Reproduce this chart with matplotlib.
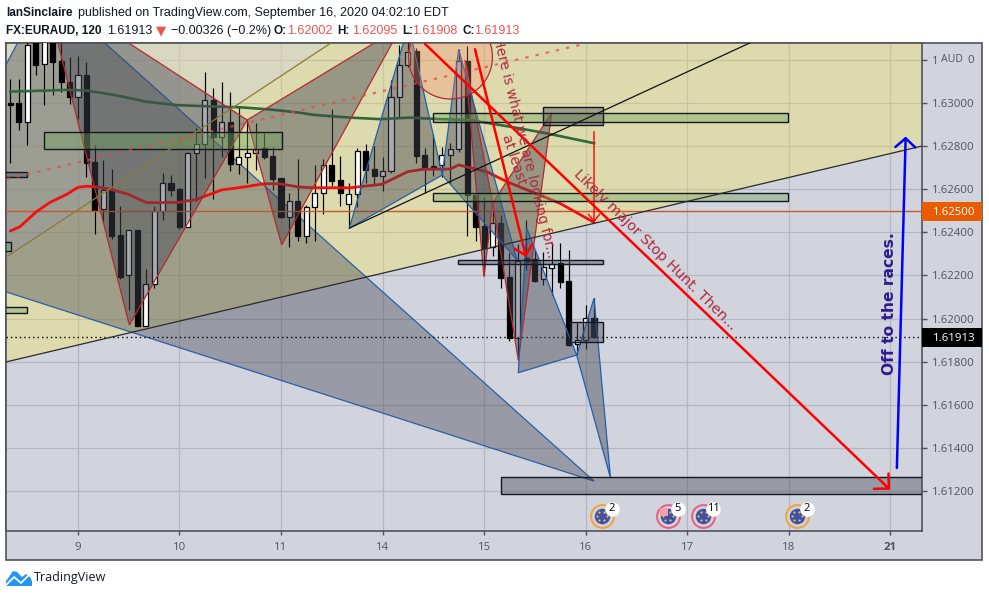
import numpy as np
import matplotlib
matplotlib.use("Agg")
import matplotlib.pyplot as plt
from matplotlib.patches import Polygon, Rectangle, Ellipse

# candles, one per 2h bar
opens = [1.63001, 1.63001, 1.62915, 1.63305, 1.63182, 1.63320, 1.63198, 1.63101, 1.63032, 1.63133,
         1.62727, 1.62508, 1.62598, 1.62388, 1.62201, 1.62412, 1.61967, 1.62159, 1.62501, 1.62629,
         1.62602, 1.62427, 1.62768, 1.62810, 1.63015, 1.62846, 1.62913, 1.62720, 1.62750, 1.62768,
         1.62792, 1.62756, 1.62652, 1.62473, 1.62545, 1.62385, 1.62517, 1.62582, 1.62713, 1.62644,
         1.62531, 1.62577, 1.62779, 1.62694, 1.62664, 1.62685, 1.63029, 1.63178, 1.63244, 1.62759,
         1.62711, 1.62713, 1.62759, 1.62787, 1.63196, 1.62574, 1.62430, 1.62331, 1.62445, 1.62193,
         1.61911, 1.62281, 1.62277, 1.62182, 1.62236, 1.62257, 1.62174, 1.61880, 1.61901, 1.62002]
closes = [1.62995, 1.62915, 1.63272, 1.63179, 1.63319, 1.63193, 1.63101, 1.63029, 1.63133, 1.62725,
          1.62505, 1.62598, 1.62385, 1.62194, 1.62410, 1.61967, 1.62159, 1.62501, 1.62629, 1.62598,
          1.62427, 1.62768, 1.62810, 1.63015, 1.62846, 1.62913, 1.62720, 1.62750, 1.62768, 1.62790,
          1.62753, 1.62649, 1.62473, 1.62545, 1.62385, 1.62517, 1.62582, 1.62713, 1.62641, 1.62585,
          1.62577, 1.62779, 1.62691, 1.62663, 1.62685, 1.63029, 1.63178, 1.63241, 1.62756, 1.62706,
          1.62706, 1.62759, 1.62787, 1.63196, 1.62573, 1.62427, 1.62327, 1.62443, 1.62190, 1.61911,
          1.62267, 1.62264, 1.62176, 1.62240, 1.62253, 1.62171, 1.61877, 1.61901, 1.62001, 1.61913]
highs = [1.63113, 1.63113, 1.63300, 1.63330, 1.63335, 1.63340, 1.63281, 1.63215, 1.63221, 1.63192,
         1.62807, 1.62737, 1.62694, 1.62523, 1.62412, 1.62412, 1.62230, 1.62523, 1.62676, 1.62668,
         1.62607, 1.62776, 1.62885, 1.63145, 1.63071, 1.63099, 1.63055, 1.62988, 1.62923, 1.62908,
         1.62864, 1.62799, 1.62652, 1.62582, 1.62742, 1.62528, 1.62714, 1.62742, 1.62974, 1.62756,
         1.62632, 1.62793, 1.62812, 1.62802, 1.62753, 1.63109, 1.63272, 1.63295, 1.63258, 1.62794,
         1.62858, 1.62796, 1.62818, 1.63252, 1.63267, 1.62574, 1.62565, 1.62505, 1.62481, 1.62305,
         1.62347, 1.62458, 1.62319, 1.62309, 1.62350, 1.62350, 1.62319, 1.61977, 1.62063, 1.62095]
lows = [1.62725, 1.62877, 1.62807, 1.63133, 1.62993, 1.63040, 1.63055, 1.62998, 1.62928, 1.62660,
        1.62393, 1.62443, 1.62370, 1.62182, 1.62040, 1.61967, 1.61967, 1.62140, 1.62458, 1.62570,
        1.62416, 1.62424, 1.62548, 1.62655, 1.62555, 1.62753, 1.62688, 1.62672, 1.62629, 1.62691,
        1.62742, 1.62598, 1.62467, 1.62334, 1.62360, 1.62350, 1.62360, 1.62486, 1.62616, 1.62523,
        1.62421, 1.62520, 1.62630, 1.62621, 1.62593, 1.62677, 1.62933, 1.63171, 1.62725, 1.62585,
        1.62663, 1.62660, 1.62632, 1.62776, 1.62385, 1.62360, 1.62202, 1.62291, 1.62140, 1.61897,
        1.61807, 1.62226, 1.62170, 1.62156, 1.62109, 1.62140, 1.61872, 1.61830, 1.61858, 1.61908]

# moving averages
red_ma_x = [0, 1.15, 3.1, 4.7, 6.7, 8, 9, 10.2, 11.8, 13.9, 16.1, 18.1, 20, 22, 25, 27.9, 30, 31.9, 34,
            35.8, 40.2, 43.9, 47, 48.8, 52, 53, 56.3, 58.7, 62.6, 65, 69]
red_ma_y = [1.62407, 1.62427, 1.62497, 1.62540, 1.62578, 1.62610, 1.62615, 1.62612, 1.62601, 1.62578,
            1.62539, 1.62539, 1.62540, 1.62554, 1.62598, 1.62613, 1.62627, 1.62626, 1.62612,
            1.62608, 1.62608, 1.62624, 1.62683, 1.62694, 1.62695, 1.62714, 1.62683, 1.62636, 1.62574, 1.62535, 1.62447]
green_ma_x = [0, 2.7, 6.7, 9, 12.2, 16.1, 19.7, 23.2, 27.2, 30.3, 31.9, 34.2, 35.8, 40.2, 43.7, 47.2, 50.8,
              54.3, 59.5, 63.4, 69]
green_ma_y = [1.63055, 1.63058, 1.63063, 1.63060, 1.63040, 1.63008, 1.62992, 1.62987, 1.62982, 1.62973,
              1.62967, 1.62957, 1.62947, 1.62934, 1.62927, 1.62934, 1.62927, 1.62923, 1.62889, 1.62861, 1.62815]

# axis ticks
day_ticks = [8, 20, 32, 44, 56, 68, 80, 92, 104]
day_labels = ["9", "10", "11", "14", "15", "16", "17", "18", "21"]
price_ticks = [1.612, 1.614, 1.616, 1.618, 1.620, 1.622, 1.624, 1.626, 1.628, 1.630, 1.632]
price_labels = ["1.61200", "1.61400", "1.61600", "1.61800", "1.62000", "1.62200", "1.62400", "1.62600",
                "1.62800", "1.63000", "1"]

# drawings, (bar, price)
yellow_zone = [(-0.51, 1.61798), (107.8, 1.62802), (107.8, 1.6335), (-0.51, 1.6335)]
upper_zone = [(-0.51, 1.62285), (37.9, 1.63281), (-0.51, 1.63281)]
brown_line = [(-0.51, 1.62285), (37.9, 1.63281)]
black_line = [(40.07, 1.62420), (87.4, 1.63281)]
dotted_line = [(-0.43, 1.62648), (67.34, 1.63272)]
big_triangle = [(-12.6, 1.62277), (4.16, 1.63528), (69.0, 1.61244)]
red_triangles = [
    [(3.98, 1.63537), (14.07, 1.61970), (28.0, 1.62923)],
    [(28.0, 1.62923), (32.08, 1.62342), (46.18, 1.63356)],
    [(53.75, 1.63202), (55.99, 1.62193), (57.02, 1.62537)],
    [(57.02, 1.62537), (64.0, 1.62956), (60.05, 1.61807)],
]
blue_triangles = [
    [(40.07, 1.62420), (47.08, 1.63365), (51.06, 1.62667)],
    [(51.06, 1.62667), (53.0, 1.63252), (59.9, 1.62272)],
    [(61.04, 1.62420), (60.05, 1.61748), (66.95, 1.61830)],
    [(66.95, 1.61830), (69.0, 1.62094), (70.95, 1.61258)],
]
# bar from, bar to, price top, price bottom
green_boxes = [(4.02, 32.08, 1.62866, 1.62787), (50.0, 91.93, 1.62954, 1.62913), (50.0, 91.93, 1.62585, 1.62548),
               (-0.6, 0.05, 1.62354, 1.62315), (-0.6, 2.01, 1.62055, 1.62024)]
gray_boxes = [(-0.6, 2.01, 1.62683, 1.62660), (63.0, 70.02, 1.62982, 1.62899), (52.95, 70.02, 1.62270, 1.62255),
              (66.16, 70.02, 1.61985, 1.61892), (58.0, 108.5, 1.61261, 1.61182)]
# calendar events
event_bars = [69.9, 77.74, 81.9, 92.95]
event_counts = ["2", "5", "11", "2"]
event_colors = ["#f7a035", "#f05a78", "#f05a78", "#f7a035"]
event_price = 1.61081

BG = "#d1d4dd"
FRAME = "#50535e"
TXT = "#50535e"
W, H = 989, 597


def px(x, y):
    return x / W, 1 - y / H


fig = plt.figure(figsize=(W / 100, H / 100), dpi=100, facecolor="white")
plt.rcParams["font.family"] = ["Open Sans", "DejaVu Sans"]

# outer pane with the price and time scales
x0, y0 = px(6, 560)
fig.add_artist(Rectangle((x0, y0), 976 / W, 517 / H, transform=fig.transFigure,
                         facecolor=BG, edgecolor=FRAME, lw=1.2, zorder=-1))

ax = fig.add_axes([6 / W, 1 - 531 / H, 916 / W, 488 / H], facecolor=BG)
ax.set_xlim(-0.508, 107.77)
ax.set_ylim(1.61012, 1.63281)
for s in ax.spines.values():
    s.set_color(FRAME)
    s.set_linewidth(1.2)

ax.set_xticks(day_ticks)
ax.set_xticklabels(day_labels, fontsize=8.2, color=TXT)
ax.get_xticklabels()[-1].set_fontweight("bold")
ax.yaxis.tick_right()
ax.set_yticks(price_ticks)
ax.set_yticklabels(price_labels, fontsize=8.2, color=TXT)
ax.tick_params(axis="y", length=3.5, width=1, color=FRAME, pad=4)
ax.tick_params(axis="x", length=3, width=1, color=FRAME, pad=5)
ax.grid(True, color="#b4b7c1", lw=0.9, zorder=1)
ax.set_axisbelow(True)

GRAY = "#434651"
ax.add_patch(Polygon(yellow_zone, facecolor="#fce844", alpha=0.3, lw=0, zorder=2))
ax.add_patch(Polygon(upper_zone, facecolor=BG, alpha=0.4, lw=0, zorder=2.1))
ax.add_patch(Polygon(big_triangle, facecolor=GRAY, alpha=0.4, lw=0, zorder=2.2))
ax.add_patch(Polygon(big_triangle, fill=False, edgecolor="#2a5fa8", lw=0.9, zorder=2.3))

# candles
bars = np.arange(len(opens))
for i in bars:
    up = closes[i] >= opens[i]
    col = "white" if up else "black"
    ax.vlines(i, lows[i], highs[i], color="black", lw=0.85, zorder=3)
    top = max(opens[i], closes[i])
    bot = min(opens[i], closes[i])
    ax.bar(i, top - bot, bottom=bot, width=0.6, color=col, edgecolor="black", lw=0.9, zorder=3.1)

ax.plot(red_ma_x, red_ma_y, color="#f01010", lw=2.0, zorder=3.4, solid_capstyle="round")
ax.plot(green_ma_x, green_ma_y, color="#2d6a3a", lw=1.9, zorder=3.4)
ax.axhline(1.625, color="#c8582a", lw=1.0, zorder=3.3)
ax.axhline(closes[-1], color="black", lw=1.0, ls=(0, (1, 2.2)), zorder=3.3)

for tri in red_triangles:
    ax.add_patch(Polygon(tri, facecolor=GRAY, edgecolor="none", alpha=0.45, zorder=4))
    ax.add_patch(Polygon(tri, fill=False, edgecolor="#b5282f", lw=0.9, zorder=4.1))
for tri in blue_triangles:
    ax.add_patch(Polygon(tri, facecolor=GRAY, edgecolor="none", alpha=0.45, zorder=4))
    ax.add_patch(Polygon(tri, fill=False, edgecolor="#1f5fae", lw=0.9, zorder=4.1))

for b in green_boxes:
    ax.add_patch(Rectangle((b[0], b[3]), b[1] - b[0], b[2] - b[3], facecolor="#70a357", alpha=0.4, lw=0, zorder=4.3))
    ax.add_patch(Rectangle((b[0], b[3]), b[1] - b[0], b[2] - b[3], fill=False, edgecolor="#131722", lw=1.0, zorder=4.4))
for b in gray_boxes:
    ax.add_patch(Rectangle((b[0], b[3]), b[1] - b[0], b[2] - b[3], facecolor=GRAY, alpha=0.4, lw=0, zorder=4.3))
    ax.add_patch(Rectangle((b[0], b[3]), b[1] - b[0], b[2] - b[3], fill=False, edgecolor="#131722", lw=1.0, zorder=4.4))

ax.add_patch(Ellipse((52.03, 1.63216), 9.93, 0.00391, facecolor="#f88b6a", alpha=0.3, lw=0, zorder=4.5))
ax.add_patch(Ellipse((52.03, 1.63216), 9.93, 0.00391, fill=False, edgecolor="#b22833", lw=0.9, zorder=4.5))

ax.plot(*zip(*brown_line), color="#8a7a3c", lw=0.9, zorder=4.6)
ax.plot([yellow_zone[0][0], yellow_zone[1][0]], [yellow_zone[0][1], yellow_zone[1][1]], color="#2a2a2a", lw=0.9, zorder=4.6)
ax.plot(*zip(*black_line), color="#111111", lw=0.9, zorder=4.6)
ax.plot(*zip(*dotted_line), color="#e8484c", alpha=0.75, lw=1.6, ls=(0, (1.5, 3.2)), zorder=4.6)


def arrow(start, end, color, lw, hl, hw):
    ax.annotate("", xy=end, xytext=start, zorder=5,
                arrowprops=dict(arrowstyle="->,head_length=%s,head_width=%s" % (hl, hw),
                                color=color, lw=lw, shrinkA=0, shrinkB=0, mutation_scale=10))


arrow((49.02, 1.63277), (104.0, 1.61204), "#ff0000", 1.8, 0.76, 0.76)
arrow((54.93, 1.63252), (60.96, 1.62286), "#ff0000", 1.8, 0.65, 0.65)
arrow((69.0, 1.62869), (69.0, 1.62447), "#ff0000", 1.0, 0.5, 0.4)
arrow((104.8, 1.61305), (105.84, 1.62846), "#0000ff", 1.8, 0.65, 0.72)

DJ = ["DejaVu Sans"]
ax.text(64.03, 1.62281, "Here is what we are looking for...", color="#b0283c", fontsize=9.9, family=DJ,
        rotation=-76, rotation_mode="anchor", ha="right", va="center", clip_on=True, zorder=6)
ax.text(59.54, 1.62737, "at least", color="#b0283c", fontsize=10, family=DJ,
        rotation=-72, rotation_mode="anchor", ha="center", va="center", clip_on=True, zorder=6)
ax.text(76.2, 1.62319, "Likely major Stop Hunt. Then...", color="#b0283c", fontsize=10.4, family=DJ,
        rotation=-44.5, rotation_mode="anchor", ha="center", va="center", zorder=6)
ax.text(103.95, 1.62070, "Off to the races.", color="#311b92", fontsize=11.2, family=DJ, fontweight="bold",
        rotation=90, rotation_mode="anchor", ha="center", va="center", zorder=6)

# calendar event badges
dot_angles = np.deg2rad([0, 60, 120, 180, 240, 300])
for b, n, c in zip(event_bars, event_counts, event_colors):
    ax.scatter([b], [event_price], s=270, facecolor=BG, edgecolor=c, lw=1.4, zorder=6)
    ax.scatter([b], [event_price], s=125, color="#3f51a8", lw=0, zorder=6.1)
    ax.scatter(b + 5 / 8.46 * np.cos(dot_angles), event_price + 5 / 21500 * np.sin(dot_angles),
               s=2.5, color="#f2c230", lw=0, zorder=6.2)
    if n == "5":
        ax.scatter([b - 4 / 8.46], [event_price + 4 / 21500], s=28, marker="s", color="#f5a0b0", lw=0, zorder=6.3)
    bx = b + 10 / 8.46
    by = event_price + 7.5 / 21500
    ax.scatter([bx], [by], s=110, color="white", lw=0, zorder=6.4)
    ax.text(bx, by, n, fontsize=8, color="black", ha="center", va="center", zorder=6.5)

# price labels on the scale
for top, bottom, col, label in [(202, 221, "#e85d04", "1.62500"), (328, 347, "black", "1.61913")]:
    fx, fy = px(922, bottom)
    fig.add_artist(Rectangle((fx, fy), 60 / W, (bottom - top) / H, transform=fig.transFigure,
                             facecolor=col, lw=0, zorder=4))
    fig.text(933 / W, 1 - (top + bottom) / 2 / H, label, color="white", fontsize=8.2,
             ha="left", va="center_baseline", zorder=5)
fig.text(952 / W, 1 - 59 / H, "AUD", color=TXT, fontsize=7.6, ha="center", va="center", zorder=5)
fig.text(970.5 / W, 1 - 60.5 / H, "0", color=TXT, fontsize=8.2, ha="center", va="center", zorder=5)

# header
RED = "#ef5350"
DARK = "#131722"
HSIZE = 9.0
BOLDSIZE = 8.5
HFONT = ["Liberation Sans"]
fig.text(6 / W, 1 - 13 / H, "IanSinclaire", fontsize=BOLDSIZE, fontweight="bold", color=DARK, va="center", family=HFONT)
fig.text(77.5 / W, 1 - 13 / H, "published on TradingView.com, September 16, 2020 04:02:10 EDT", fontsize=HSIZE, color=DARK, va="center", family=HFONT)
row2 = [(6, "FX:EURAUD, 120", DARK, "bold"), (107, "1.61913", DARK, "normal"), (171, "\u22120.00326 (\u22120.2%)", DARK, "normal"),
        (273, "O:", DARK, "bold"), (287.5, "1.62002", RED, "normal"), (337.5, "H:", DARK, "bold"), (352, "1.62095", RED, "normal"),
        (402, "L:", DARK, "bold"), (412.5, "1.61908", RED, "normal"), (462.5, "C:", DARK, "bold"), (474, "1.61913", RED, "normal")]
for x, s, c, w in row2:
    fig.text(x / W, 1 - 31 / H, s, fontsize=BOLDSIZE if w == "bold" else HSIZE, fontweight=w, color=c, va="center", family=HFONT)
fig.text(161.5 / W, 1 - 31 / H, "\u25bc", fontsize=9.5, color=RED, ha="center", va="center", family=DJ)

# footer logo
cloud = [px(6, 586), px(6, 581), px(9, 577), px(13, 571), px(17, 572), px(22, 577), px(26, 574), px(30, 577), px(32, 581), px(32, 586)]
fig.add_artist(Polygon(cloud, closed=True, transform=fig.transFigure, facecolor="#2196f3", lw=0))
zig = [px(6, 585), px(14, 577), px(21, 583), px(28, 576)]
fig.add_artist(plt.Line2D([p[0] for p in zig], [p[1] for p in zig], transform=fig.transFigure, color="white", lw=1.3))
fig.text(34 / W, 1 - 578 / H, "TradingView", fontsize=9, color=DARK, va="center")

fig.savefig("out.png", dpi=100)
